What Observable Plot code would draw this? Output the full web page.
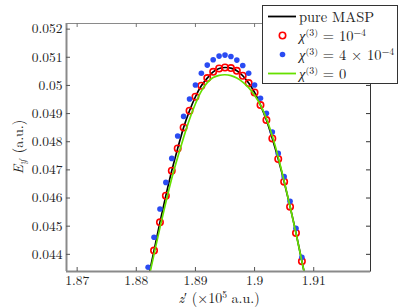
<!DOCTYPE html>
<html><head><meta charset="utf-8">
<script src="https://cdn.jsdelivr.net/npm/d3@7"></script>
<script src="https://cdn.jsdelivr.net/npm/@observablehq/plot@0.6"></script>
<style>
body{margin:0;background:#fff;}
#wrap{position:relative;width:409px;height:307px;font-family:'Latin Modern Roman','Liberation Serif',serif;color:#222;overflow:hidden;}
#wrap svg{position:absolute;left:0;top:0;}
#wrap svg text{font-family:'Latin Modern Roman','Liberation Serif',serif;}
.lab{position:absolute;white-space:nowrap;font-size:14px;line-height:1;font-family:'Latin Modern Roman','Liberation Serif',serif;}
.sup{font-size:0.68em;position:relative;top:-0.5em;line-height:0;}
.sub{font-size:0.68em;position:relative;top:0.3em;line-height:0;}
#legend{position:absolute;left:262px;top:5px;width:134px;height:77px;border:1px solid #333;background:#fff;}
.row{position:absolute;left:0;height:19px;width:134px;}
.row svg{position:absolute;left:0;top:0;}
.row .t{position:absolute;left:36px;top:2px;line-height:15px;font-size:14.5px;white-space:nowrap;font-family:'Latin Modern Roman','Liberation Serif',serif;}
</style></head><body><div id="wrap"></div>
<script>
// x positions (z', ×10^5 a.u.)
const zLine = [1.882,1.883,1.884,1.885,1.886,1.887,1.888,1.889,1.890,1.891,1.892,1.893,1.894,1.895,1.896,1.897,1.898,1.899,1.900,1.901,1.902,1.903,1.904,1.905,1.906,1.907,1.908,1.909];
const zRed = [1.883,1.884,1.885,1.886,1.887,1.888,1.889,1.890,1.891,1.892,1.893,1.894,1.895,1.896,1.897,1.898,1.899,1.900,1.901,1.902,1.903,1.904,1.905,1.906,1.907,1.908];
const zBlue = [1.882,1.883,1.884,1.885,1.886,1.887,1.888,1.889,1.890,1.891,1.892,1.893,1.894,1.895,1.896,1.897,1.898,1.899,1.900,1.901,1.902,1.903,1.904,1.905,1.906,1.907,1.908];
// pure MASP (black line)
const pureMASP = [0.04313,0.044133,0.045137,0.046084,0.046972,0.047763,0.048508,0.049101,0.049598,0.049988,0.050261,0.050485,0.050602,0.050637,0.050616,0.05052,0.050343,0.050084,0.04975,0.049303,0.048771,0.048118,0.047387,0.046581,0.045694,0.044761,0.043753,0.04275];
// chi3 = 1e-4 (red circles)
const chi1e4 = [0.044133,0.045137,0.046084,0.046972,0.047763,0.048508,0.049101,0.049598,0.049988,0.050261,0.050485,0.050602,0.050637,0.050616,0.05052,0.050343,0.050084,0.04975,0.049303,0.048771,0.048118,0.047387,0.046581,0.045694,0.044761,0.043753];
// chi3 = 4e-4 (blue dots)
const chi4e4 = [0.04354,0.044605,0.045612,0.046556,0.047408,0.048203,0.048899,0.049516,0.050013,0.050431,0.050722,0.050911,0.051042,0.051077,0.051028,0.0509,0.050708,0.050431,0.050013,0.049544,0.049012,0.048345,0.047586,0.046759,0.045882,0.044924,0.043895];
// chi3 = 0 (green line)
const chi0 = [0.04305,0.044,0.04495,0.04585,0.0467,0.04745,0.04815,0.0488,0.04935,0.0498,0.0501,0.05028,0.05036,0.05038,0.05035,0.05026,0.05012,0.04992,0.04965,0.0493,0.04882,0.0482,0.04745,0.0466,0.0457,0.04475,0.04375,0.04275];

const xTicks = [1.87,1.88,1.89,1.9,1.91];
const yTicks = [0.044,0.045,0.046,0.047,0.048,0.049,0.05,0.051,0.052];
const xDomain = [1.8682,1.9196];
const yDomain = [0.04339,0.0522];

const lineRows = zLine.map((z,i)=>({z, masp: pureMASP[i], g: chi0[i]}));
const redRows = zRed.map((z,i)=>({z, v: chi1e4[i]}));
const blueRows = zBlue.map((z,i)=>({z, v: chi4e4[i]}));
const fmt = d3.format("~g");

const chart = Plot.plot({
  width: 409, height: 307,
  marginLeft: 66, marginRight: 39, marginTop: 23, marginBottom: 36,
  style: {fontFamily: "'Latin Modern Roman','Liberation Serif',serif", fontSize: "13.5px", background: "transparent", color: "#222"},
  x: {domain: xDomain},
  y: {domain: yDomain},
  marks: [
    Plot.line(lineRows, {x: "z", y: "masp", stroke: "#000", strokeWidth: 1.7, curve: "natural", clip: true}),
    Plot.dot(redRows, {x: "z", y: "v", r: 3.2, stroke: "#ff0000", strokeWidth: 1.6, fill: "none", clip: true}),
    Plot.dot(blueRows, {x: "z", y: "v", r: 2.8, fill: "#2a4bf2", stroke: "none", clip: true}),
    Plot.line(lineRows, {x: "z", y: "g", stroke: "#66e000", strokeWidth: 1.7, curve: "natural", clip: true}),
    Plot.frame({stroke: "#8a8a8a", strokeWidth: 1}),
    Plot.ruleX([xDomain[1]], {stroke: "#333", strokeWidth: 1}),
    Plot.ruleX([xDomain[0]], {stroke: "#8a8a8a", strokeWidth: 2}),
    Plot.ruleY([yDomain[0]], {stroke: "#8a8a8a", strokeWidth: 2}),
    Plot.ruleY(yTicks, {y: d => d, insetRight: 300, stroke: "#555"}),
    Plot.ruleY(yTicks, {y: d => d, insetLeft: 300, stroke: "#333"}),
    Plot.ruleX(xTicks, {x: d => d, insetTop: 244, stroke: "#555"}),
    Plot.ruleX(xTicks, {x: d => d, insetBottom: 244, stroke: "#777"}),
    Plot.axisX(xTicks, {tickSize: 0, tickPadding: 4, tickFormat: fmt, label: null}),
    Plot.axisY(yTicks, {tickSize: 0, tickPadding: 4, tickFormat: fmt, label: null})
  ]
});
const wrap = document.getElementById("wrap");
wrap.appendChild(chart);

const xl = document.createElement("div");
xl.className = "lab";
xl.style.left = "219px"; xl.style.top = "297px";
xl.style.transform = "translate(-50%,-50%)";
xl.innerHTML = '<i>z</i>′ (×10<span class="sup">5</span> a.u.)';
wrap.appendChild(xl);

const yl = document.createElement("div");
yl.className = "lab";
yl.style.left = "17px"; yl.style.top = "147px";
yl.style.transform = "translate(-50%,-50%) rotate(-90deg)";
yl.innerHTML = '<i>E</i><span class="sub"><i>y</i>′</span> (a.u.)';
wrap.appendChild(yl);

// legend
const legendItems = [
  {kind: "line", color: "#000", html: "pure MASP"},
  {kind: "ring", color: "#ff0000", html: '<i>χ</i><span class="sup">(3)</span> = 10<span class="sup">−4</span>'},
  {kind: "dot", color: "#2a4bf2", html: '<i>χ</i><span class="sup">(3)</span> = 4 × 10<span class="sup">−4</span>'},
  {kind: "line", color: "#66e000", html: '<i>χ</i><span class="sup">(3)</span> = 0'}
];
const leg = document.createElement("div");
leg.id = "legend";
legendItems.forEach((it, i) => {
  const row = document.createElement("div");
  row.className = "row";
  row.style.top = (0.5 + i * 19) + "px";
  let sw = "";
  if (it.kind === "line") sw = `<line x1="5" x2="33" y1="9.5" y2="9.5" stroke="${it.color}" stroke-width="1.8"/>`;
  if (it.kind === "ring") sw = `<circle cx="19.5" cy="9.5" r="3.2" fill="none" stroke="${it.color}" stroke-width="1.6"/>`;
  if (it.kind === "dot") sw = `<circle cx="19.5" cy="9.5" r="2.8" fill="${it.color}"/>`;
  row.innerHTML = `<svg width="36" height="19">${sw}</svg><div class="t">${it.html}</div>`;
  leg.appendChild(row);
});
wrap.appendChild(leg);
</script>
</body></html>
